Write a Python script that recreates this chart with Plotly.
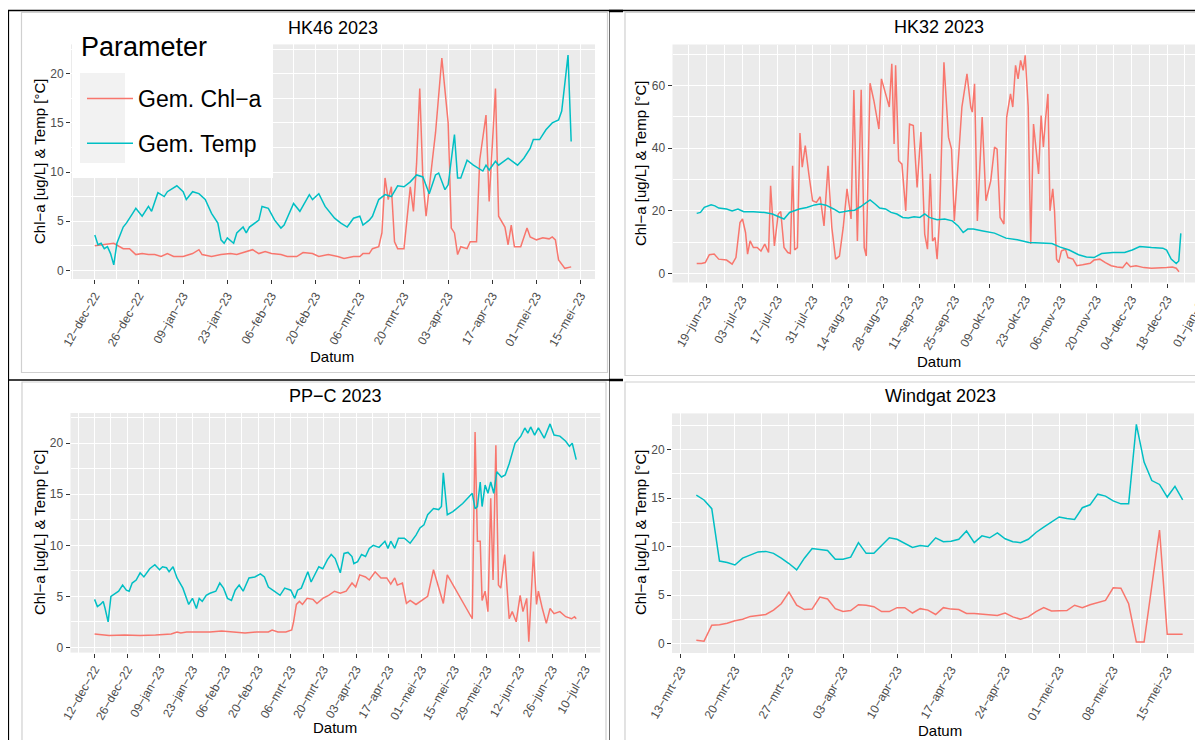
import numpy as np
import pandas as pd
import plotly.graph_objects as go

W, H = 1203, 740
OFF = 8  # the page body adds an 8 px margin; reference pixels are shifted back by it
FONT = "Liberation Sans, Arial, sans-serif"
RED = "#F8766D"
TEAL = "#00BFC4"

# ---------------- HK46 2023 (day offsets from 12-dec-2022) ----------------
hk46_start = "2022-12-12"
hk46_chl_day = [0, 2, 6, 9, 11, 13, 15, 17, 19, 21, 23, 25, 28, 31, 33, 34, 37, 40, 43, 45, 48, 50, 52, 54, 56, 59,
                61, 64, 66, 69, 71, 74, 77, 79, 82, 84, 85, 87, 88, 90, 91, 92, 93, 94, 95, 96, 97, 98, 100, 101, 102,
                103, 104, 105, 107, 108, 110, 112, 113, 114, 115, 116, 118, 119, 121, 122, 124, 125, 127, 128, 130,
                131, 132, 133, 135, 137, 138, 140, 142, 144, 145, 146, 147, 149, 151]
hk46_chl = [2.5, 2.6, 2.75, 2.2, 2.2, 1.6, 1.7, 1.6, 1.6, 1.4, 1.7, 1.4, 1.4, 1.7, 2.1, 1.6, 1.4, 1.6, 1.7, 1.6, 1.9,
            2.1, 1.7, 1.9, 1.7, 1.6, 1.4, 1.4, 1.8, 1.7, 1.4, 1.6, 1.4, 1.2, 1.4, 1.4, 1.7, 1.7, 2.2, 2.4, 3.8, 9.4,
            7.2, 8.5, 2.9, 2.2, 2.2, 2.2, 8.5, 6.0, 10.9, 18.5, 9.2, 5.5, 11.2, 14.0, 21.6, 15.0, 4.3, 3.8, 1.6, 2.4,
            2.2, 2.9, 2.9, 11.2, 15.8, 7.0, 18.5, 5.5, 4.4, 2.6, 4.6, 2.4, 2.4, 4.3, 3.4, 3.1, 3.3, 3.2, 3.4, 3.1,
            1.05, 0.2, 0.35]
hk46_temp_day = [0, 1, 2, 3, 4, 5, 6, 7, 9, 10, 12, 13, 15, 17, 18, 20, 22, 23, 26, 28, 29, 31, 33, 35, 37, 39, 40,
                 41, 42, 44, 45, 47, 48, 49, 52, 53, 55, 57, 59, 60, 63, 65, 68, 69, 71, 73, 76, 78, 80, 82, 84, 85,
                 87, 88, 90, 92, 94, 96, 98, 100, 102, 104, 106, 108, 109, 111, 112, 114, 115, 116, 118, 120, 123,
                 124, 125, 127, 128, 130, 131, 134, 136, 138, 139, 141, 143, 145, 147, 148, 150, 151]
hk46_temp = [3.6, 2.6, 2.75, 2.2, 2.4, 1.7, 0.55, 2.75, 4.4, 4.8, 5.8, 6.3, 5.5, 6.5, 6.0, 7.9, 7.5, 8.0, 8.6, 8.0,
             7.2, 8.0, 7.8, 7.2, 5.8, 4.8, 3.1, 2.75, 3.3, 2.75, 3.8, 4.4, 3.8, 4.4, 5.1, 6.5, 6.3, 5.1, 4.3, 4.6,
             6.8, 6.0, 7.7, 7.2, 7.8, 6.5, 5.3, 4.8, 4.4, 5.3, 5.5, 4.6, 5.1, 5.5, 7.2, 7.7, 7.5, 8.6, 8.5, 9.0, 9.7,
             9.5, 7.8, 9.7, 9.9, 8.2, 8.7, 13.8, 9.4, 9.4, 11.2, 10.7, 10.1, 10.7, 10.2, 11.1, 10.7, 11.2, 11.4,
             10.7, 11.4, 12.4, 13.3, 13.3, 14.3, 15.0, 15.3, 16.2, 21.9, 13.1]
hk46_tick_dates = ["2022-12-12", "2022-12-26", "2023-01-09", "2023-01-23", "2023-02-06", "2023-02-20",
                   "2023-03-06", "2023-03-20", "2023-04-03", "2023-04-17", "2023-05-01", "2023-05-15"]
hk46_tick_text = ["12−dec−22", "26−dec−22", "09−jan−23", "23−jan−23", "06−feb−23", "20−feb−23",
                  "06−mrt−23", "20−mrt−23", "03−apr−23", "17−apr−23", "01−mei−23", "15−mei−23"]

# ---------------- HK32 2023 (day offsets from 19-jun-2023) ----------------
hk32_start = "2023-06-19"
hk32_chl_day = [-3.9, -2.0, -0.5, 1.1, 3.0, 4.8, 7.9, 10.1, 11.6, 13.2, 14.2, 15.4, 16.2, 17.2, 18.5, 20.0, 21.5,
                23.0, 24.5, 25.3, 26.8, 28.3, 29.3, 30.6, 32.1, 33.1, 34.0, 34.8, 35.9, 36.9, 37.8, 39.0, 40.4,
                41.9, 43.4, 44.9, 46.4, 48.0, 49.5, 51.0, 52.5, 54.0, 55.5, 57.1, 58.2, 59.6, 61.1, 62.3, 63.1,
                64.6, 66.1, 68.1, 69.1, 70.7, 72.2, 73.2, 74.1, 74.7, 75.9, 77.2, 78.7, 80.2, 81.7, 83.2, 84.7,
                86.2, 87.3, 88.4, 89.3, 90.3, 91.1, 92.1, 93.8, 95.6, 96.8, 97.9, 99.4, 100.9, 102.9, 104.4, 105.0,
                105.9, 107.0, 108.9, 110.4, 112.3, 113.8, 114.8, 116.0, 117.5, 118.6, 120.1, 121.0, 122.1, 123.1,
                124.1, 125.1, 125.9, 127.1, 128.1, 129.2, 130.4, 131.2, 132.2, 133.1, 133.9, 134.9, 135.7, 136.8,
                137.5, 138.3, 139.2, 140.2, 141.8, 142.8, 144.8, 146.3, 148.6, 151.6, 153.1, 155.4, 157.6, 159.9,
                162.2, 164.4, 166.0, 167.5, 169.7, 172.8, 175.8, 178.8, 181.8, 184.1, 185.6, 186.7]
hk32_chl = [3.2, 3.2, 3.5, 6.0, 6.2, 4.6, 4.3, 3.0, 5.1, 16.3, 17.4, 13.1, 6.2, 10.4, 8.3, 8.3, 7.2, 9.4, 6.7, 28.0,
            8.8, 19.0, 19.8, 8.3, 6.7, 6.4, 34.4, 7.5, 8.3, 44.8, 33.9, 40.8, 31.8, 23.2, 22.7, 24.5, 15.2, 34.4,
            14.7, 4.6, 5.6, 14.7, 27.0, 17.4, 58.5, 10.4, 58.6, 8.3, 5.6, 60.7, 55.2, 46.1, 62.1, 57.3, 53.1, 66.9,
            41.3, 66.4, 36.0, 34.9, 20.0, 47.7, 47.2, 27.5, 45.1, 12.6, 7.8, 31.8, 10.4, 11.5, 4.6, 17.9, 67.4,
            43.5, 39.7, 16.8, 36.0, 53.1, 63.7, 53.1, 51.5, 60.5, 16.8, 49.9, 23.2, 29.6, 40.3, 39.7, 17.9, 15.8,
            49.9, 57.3, 53.1, 66.4, 62.1, 68.0, 64.8, 69.6, 53.1, 9.4, 47.7, 37.1, 31.8, 50.4, 40.3, 48.8, 57.3,
            20.0, 27.0, 20.0, 4.6, 3.5, 7.2, 7.8, 5.1, 4.6, 2.5, 2.8, 3.3, 4.3, 4.6, 3.5, 2.5, 2.1, 1.9, 3.5, 2.2,
            2.5, 1.9, 1.7, 1.7, 1.9, 2.1, 1.7, 0.6]
hk32_temp_day = [-3.9, -2.4, -0.9, 1.8, 3.3, 4.8, 7.9, 10.1, 12.4, 14.7, 18.5, 23.0, 26.0, 29.0, 30.6, 32.8, 36.6,
                 39.6, 42.7, 44.9, 47.2, 50.2, 52.5, 56.3, 58.5, 60.8, 63.1, 64.6, 66.6, 68.4, 70.7, 72.9, 75.2,
                 77.5, 79.7, 82.0, 84.3, 86.2, 88.0, 91.1, 94.1, 97.1, 99.4, 101.4, 103.2, 105.4, 109.2, 113.8,
                 118.3, 122.8, 127.4, 131.9, 136.5, 139.5, 143.3, 147.0, 150.1, 153.1, 156.1, 160.6, 165.2, 168.2,
                 171.2, 175.8, 180.3, 181.8, 183.6, 185.6, 186.6, 187.4]
hk32_temp = [19.2, 19.5, 21.1, 21.9, 21.6, 20.9, 20.6, 20.0, 20.6, 19.7, 19.7, 19.5, 19.0, 17.9, 17.4, 19.5, 20.6,
             21.1, 21.9, 22.2, 21.8, 20.6, 19.5, 20.0, 20.2, 21.3, 22.7, 23.5, 22.2, 20.9, 20.6, 19.5, 19.0, 17.9,
             17.7, 18.1, 17.9, 19.0, 17.9, 17.2, 17.4, 16.8, 15.2, 13.1, 14.2, 14.2, 13.6, 12.9, 11.3, 10.8, 9.9,
             9.7, 9.6, 8.5, 7.5, 6.0, 5.3, 5.1, 6.4, 6.7, 6.7, 7.5, 8.6, 8.3, 8.1, 7.5, 4.6, 3.2, 4.0, 12.8]
hk32_tick_dates = ["2023-06-19", "2023-07-03", "2023-07-17", "2023-07-31", "2023-08-14", "2023-08-28",
                   "2023-09-11", "2023-09-25", "2023-10-09", "2023-10-23", "2023-11-06", "2023-11-20",
                   "2023-12-04", "2023-12-18", "2024-01-01"]
hk32_tick_text = ["19−jun−23", "03−jul−23", "17−jul−23", "31−jul−23", "14−aug−23", "28−aug−23", "11−sep−23",
                  "25−sep−23", "09−okt−23", "23−okt−23", "06−nov−23", "20−nov−23", "04−dec−23", "18−dec−23",
                  "01−jan−24"]

# ---------------- PP-C 2023 (day offsets from 12-dec-2022) ----------------
ppc_start = "2022-12-12"
ppc_chl_day = [0, 6.2, 12.8, 19.5, 26.1, 32.8, 35.3, 36.9, 39.4, 42.8, 49.4, 54.4, 59.4, 64.4, 69.4, 74.4, 76.0,
               78.5, 81.9, 84.4, 85.2, 86.4, 87.7, 89.0, 91.0, 93.5, 95.2, 97.7, 100.2, 102.7, 105.2, 107.7, 110.2,
               111.8, 113.5, 116.0, 117.6, 120.1, 122.6, 125.1, 126.8, 128.5, 129.6, 131.8, 133.5, 135.1, 137.6,
               140.1, 142.6, 145.1, 149.3, 151.0, 161.7, 162.9, 163.9, 165.1, 165.9, 167.2, 168.4, 169.6, 170.6,
               171.8, 172.9, 173.9, 175.6, 177.5, 178.8, 180.5, 182.2, 183.4, 185.0, 185.9, 187.9, 189.2, 190.0,
               191.7, 193.4, 195.0, 196.7, 199.2, 201.7, 204.2, 205.5, 206.2]
ppc_chl = [1.3, 1.15, 1.2, 1.15, 1.2, 1.3, 1.5, 1.4, 1.5, 1.5, 1.5, 1.6, 1.5, 1.4, 1.5, 1.5, 1.7, 1.5, 1.5, 1.7,
           2.5, 4.2, 4.5, 4.2, 4.8, 4.7, 4.3, 4.8, 5.1, 5.5, 5.3, 5.5, 6.3, 5.9, 7.1, 6.9, 6.6, 7.4, 6.8, 6.8, 6.2,
           6.8, 6.1, 6.3, 4.3, 4.6, 4.2, 4.6, 5.0, 7.6, 4.3, 7.1, 2.8, 21.1, 10.4, 10.4, 4.6, 5.5, 3.5, 14.6, 6.6,
           19.8, 6.1, 5.8, 9.1, 2.8, 3.5, 2.5, 5.1, 3.5, 4.8, 0.55, 9.4, 4.2, 5.5, 3.8, 2.35, 3.8, 3.3, 3.5, 3.0,
           2.8, 3.0, 2.8]
ppc_temp_day = [0, 1.2, 2.5, 3.7, 4.5, 5.8, 7.0, 8.7, 10.3, 12.0, 13.6, 14.8, 16.1, 17.8, 19.5, 21.1, 23.6, 25.8,
                27.8, 29.1, 30.8, 31.9, 33.6, 35.3, 37.8, 40.3, 41.9, 43.6, 44.8, 46.1, 47.8, 49.4, 51.9, 53.6, 55.2,
                56.9, 58.6, 60.2, 61.9, 63.6, 66.1, 68.6, 71.0, 72.7, 74.4, 76.9, 79.4, 81.4, 84.0, 85.7, 86.9, 88.5,
                90.2, 91.3, 92.7, 94.3, 96.0, 97.7, 99.7, 101.3, 103.0, 105.2, 106.8, 108.5, 110.2, 111.0, 112.6,
                114.3, 116.0, 117.6, 119.3, 121.8, 124.3, 125.6, 126.8, 128.5, 130.1, 132.6, 135.1, 137.6, 139.3,
                141.0, 142.6, 145.1, 147.3, 148.5, 149.3, 151.0, 153.4, 157.6, 161.7, 162.9, 163.9, 165.1, 165.9,
                167.2, 168.4, 169.6, 170.9, 172.2, 174.2, 175.8, 177.5, 180.0, 182.5, 184.2, 185.5, 186.7, 188.4,
                190.0, 192.5, 195.0, 196.7, 199.2, 201.7, 203.3, 204.5, 206.2]
ppc_temp = [4.7, 4.0, 4.2, 4.5, 3.8, 2.5, 5.0, 5.3, 5.5, 6.1, 5.6, 5.5, 6.3, 6.6, 7.3, 6.9, 7.7, 8.1, 7.6, 7.9, 7.8,
            7.4, 7.9, 6.8, 5.8, 4.2, 4.8, 3.8, 4.8, 4.5, 5.1, 5.3, 5.5, 6.3, 5.8, 4.8, 4.6, 5.6, 6.1, 5.5, 6.8, 6.9,
            7.2, 6.9, 5.9, 5.5, 5.1, 5.8, 5.6, 4.8, 5.6, 5.8, 6.8, 7.4, 6.4, 7.1, 7.9, 7.7, 8.6, 9.1, 8.7, 7.3, 9.2,
            9.3, 8.9, 8.2, 8.4, 9.1, 8.9, 9.7, 10.0, 9.8, 10.4, 9.7, 10.4, 9.7, 10.7, 10.7, 10.2, 11.0, 11.7, 12.0,
            13.0, 13.6, 13.5, 13.8, 17.1, 13.0, 13.3, 14.1, 15.1, 13.6, 13.8, 16.2, 13.8, 15.9, 15.1, 16.2, 15.1,
            17.2, 16.7, 16.9, 18.0, 20.0, 20.7, 21.5, 21.0, 21.6, 20.8, 21.5, 20.5, 21.9, 20.8, 20.7, 20.2, 19.7,
            20.0, 18.4]
ppc_tick_dates = hk46_tick_dates + ["2023-05-29", "2023-06-12", "2023-06-26", "2023-07-10"]
ppc_tick_text = hk46_tick_text + ["29−mei−23", "12−jun−23", "26−jun−23", "10−jul−23"]

# ---------------- Windgat 2023 (day offsets from 13-mrt-2023) ----------------
wg_start = "2023-03-13"
wg_chl_day = list(range(2, 61)) + [62, 63, 64, 65]
wg_chl = [0.35, 0.25, 1.9, 1.95, 2.1, 2.35, 2.5, 2.8, 2.9, 3.0, 3.45, 4.1, 5.3, 3.95, 3.5, 3.55, 4.8, 4.6, 3.6,
          3.3, 3.4, 4.0, 3.95, 3.8, 3.3, 3.3, 3.7, 3.7, 3.15, 3.6, 3.45, 3.0, 3.7, 3.55, 3.5, 3.1, 3.1, 3.05, 3.0,
          2.9, 3.15, 2.75, 2.5, 2.75, 3.3, 3.7, 3.35, 3.35, 3.4, 3.95, 3.7, 4.0, 4.2, 4.45, 5.75, 5.7, 4.1, 0.15,
          0.15, 11.7, 0.95, 0.95, 0.95]
wg_temp_day = list(range(2, 66))
wg_temp = [15.3, 14.8, 13.9, 8.5, 8.35, 8.1, 8.8, 9.1, 9.45, 9.5, 9.3, 8.8, 8.25, 7.6, 8.8, 9.8, 9.7, 9.6, 8.7,
           8.7, 8.9, 10.4, 9.3, 9.3, 10.1, 10.9, 10.75, 10.3, 9.9, 10.1, 10.0, 10.9, 10.5, 10.55, 10.75, 11.6,
           10.4, 11.1, 10.9, 11.4, 10.8, 10.5, 10.4, 10.75, 11.45, 12.0, 12.5, 13.05, 12.9, 12.8, 14.0, 14.3, 15.4,
           15.2, 14.7, 14.4, 14.4, 22.6, 18.7, 16.8, 16.4, 15.1, 16.2, 14.8]
wg_tick_dates = ["2023-03-13", "2023-03-20", "2023-03-27", "2023-04-03", "2023-04-10", "2023-04-17",
                 "2023-04-24", "2023-05-01", "2023-05-08", "2023-05-15"]
wg_tick_text = ["13−mrt−23", "20−mrt−23", "27−mrt−23", "03−apr−23", "10−apr−23", "17−apr−23", "24−apr−23",
                "01−mei−23", "08−mei−23", "15−mei−23"]

titles = ["HK46 2023", "HK32 2023", "PP−C 2023", "Windgat 2023"]
series_names = ["Gem. Chl−a", "Gem. Temp"]
legend_title = "Parameter"
x_title = "Datum"
y_title = "Chl−a [ug/L] & Temp [°C]"


# ---------------- helpers ----------------
def px(x):
    return (x - OFF) / W


def py(y):
    return 1 - (y - OFF) / H


def to_dates(start, days):
    return pd.Timestamp(start) + pd.to_timedelta(np.asarray(days, dtype=float), unit="D")


def expand(lo, hi, f=0.05):
    s = hi - lo
    return lo - f * s, hi + f * s


panels = [
    dict(start=hk46_start, chl=(hk46_chl_day, hk46_chl), temp=(hk46_temp_day, hk46_temp),
         ticks=(hk46_tick_dates, hk46_tick_text), xdom=(71, 595), ydom=(44.4, 279.0), ydt=5, xstep=14),
    dict(start=hk32_start, chl=(hk32_chl_day, hk32_chl), temp=(hk32_temp_day, hk32_temp),
         ticks=(hk32_tick_dates, hk32_tick_text), xdom=(672.5, 1205.0), ydom=(44.5, 282.5), ydt=20, xstep=14),
    dict(start=ppc_start, chl=(ppc_chl_day, ppc_chl), temp=(ppc_temp_day, ppc_temp),
         ticks=(ppc_tick_dates, ppc_tick_text), xdom=(70.5, 600.3), ydom=(413.0, 652.6), ydt=5, xstep=14),
    dict(start=wg_start, chl=(wg_chl_day, wg_chl), temp=(wg_temp_day, wg_temp),
         ticks=(wg_tick_dates, wg_tick_text), xdom=(672.0, 1207.0), ydom=(413.4, 653.0), ydt=5, xstep=7),
]

fig = go.Figure()
layout_axes = {}
annotations = []

for i, p in enumerate(panels):
    n = "" if i == 0 else str(i + 1)
    xa, ya = "x" + n, "y" + n
    for k, (col, key) in enumerate([(RED, "chl"), (TEAL, "temp")]):
        d, v = p[key]
        fig.add_trace(go.Scatter(
            x=to_dates(p["start"], d), y=v, mode="lines", xaxis=xa, yaxis=ya,
            line=dict(color=col, width=1.5), name=series_names[k],
            showlegend=(i == 0), legendgroup=series_names[k]))

    all_d = list(p["chl"][0]) + list(p["temp"][0])
    all_v = list(p["chl"][1]) + list(p["temp"][1])
    xl, xr = expand(min(all_d), max(all_d))
    yl, yr = expand(min(all_v), max(all_v))
    t0 = pd.Timestamp(p["start"])
    xrange = [t0 + pd.Timedelta(days=xl), t0 + pd.Timedelta(days=xr)]
    tick_dates, tick_text = p["ticks"]
    minor_t0 = pd.Timestamp(tick_dates[0]) - pd.Timedelta(days=p["xstep"] / 2)

    layout_axes["xaxis" + n] = dict(
        domain=[px(p["xdom"][0]), px(p["xdom"][1])], anchor=ya, type="date", range=xrange,
        automargin=False, ticklabeloverflow="allow",
        tickmode="array", tickvals=tick_dates, ticktext=tick_text, tickangle=-60,
        ticks="outside", ticklen=4, tickwidth=1, tickcolor="#333333",
        tickfont=dict(family=FONT, size=12, color="#4D4D4D"),
        showgrid=True, gridcolor="white", gridwidth=1.3, zeroline=False, showline=False,
        minor=dict(tickmode="linear", tick0=minor_t0.strftime("%Y-%m-%d %H:%M"),
                   dtick=p["xstep"] * 86400000, showgrid=True, gridcolor="white", gridwidth=0.6),
    )
    layout_axes["yaxis" + n] = dict(
        domain=[py(p["ydom"][1]), py(p["ydom"][0])], anchor=xa, range=[yl, yr],
        automargin=False,
        tickmode="linear", tick0=0, dtick=p["ydt"],
        ticks="outside", ticklen=4, tickwidth=1, tickcolor="#333333",
        tickfont=dict(family=FONT, size=12, color="#4D4D4D"),
        showgrid=True, gridcolor="white", gridwidth=1.3, zeroline=False, showline=False,
        minor=dict(tickmode="linear", tick0=p["ydt"] / 2, dtick=p["ydt"], showgrid=True,
                   gridcolor="white", gridwidth=0.6),
    )

# text positions (reference pixels)
title_pos = [(333, 27.5), (939, 27), (335, 396), (940, 396)]
xt_pos = [(332, 356), (939, 361), (335, 727), (940, 730)]
yt_pos = [(39, 162), (640, 164), (39, 533), (640, 533)]
for i in range(4):
    annotations.append(dict(text=titles[i], x=px(title_pos[i][0]), y=py(title_pos[i][1]), xref="paper",
                            yref="paper", showarrow=False, xanchor="center", yanchor="middle",
                            font=dict(family=FONT, size=18, color="black")))
    annotations.append(dict(text=x_title, x=px(xt_pos[i][0]), y=py(xt_pos[i][1]), xref="paper", yref="paper",
                            showarrow=False, xanchor="center", yanchor="middle",
                            font=dict(family=FONT, size=15, color="black")))
    annotations.append(dict(text=y_title, x=px(yt_pos[i][0]), y=py(yt_pos[i][1]), xref="paper", yref="paper",
                            showarrow=False, xanchor="center", yanchor="middle", textangle=-90,
                            font=dict(family=FONT, size=15, color="black")))
# legend title
annotations.append(dict(text=legend_title, x=px(79), y=py(47), xref="paper", yref="paper", showarrow=False,
                        xanchor="left", yanchor="middle", font=dict(family=FONT, size=27, color="black")))


def rect(x0, y0, x1, y1, line="#D0D0D0", fill=None, width=1.2, layer="below"):
    return dict(type="rect", xref="paper", yref="paper", x0=px(x0), x1=px(x1), y0=py(y1), y1=py(y0),
                line=dict(color=line, width=width) if line else dict(width=0),
                fillcolor=fill if fill else "rgba(0,0,0,0)", layer=layer)


def seg(x0, y0, x1, y1, color="black", width=1.5, layer="above"):
    return dict(type="line", xref="paper", yref="paper", x0=px(x0), x1=px(x1), y0=py(y0), y1=py(y1),
                line=dict(color=color, width=width), layer=layer)


shapes = [
    # picture frames
    rect(21.5, 12.5, 607.5, 372.5),
    rect(625, 12.5, 1215, 375.5),
    rect(22, 382, 606, 760),
    rect(625, 382, 1215, 760),
    # table lines
    seg(7, 10.5, 1215, 10.5, width=1.5),
    seg(8, 10, 8, 760, width=2.2),
    seg(609.5, 10, 609.5, 760, color="#6E6E6E", width=1),
    seg(8, 380, 623, 380, width=1.5),
    seg(609, 11, 623, 11, width=2.5),
    seg(609, 380, 623, 380, width=2.5),
    # legend box + key background
    rect(73, 30, 273, 178, line=None, fill="white", layer="above"),
    rect(80, 73, 125, 163, line=None, fill="#F2F2F2", layer="above"),
]

fig.update_layout(
    width=W, height=H, margin=dict(l=0, r=0, t=0, b=0, autoexpand=False),
    paper_bgcolor="white", plot_bgcolor="#EBEBEB",
    font=dict(family=FONT, color="black"),
    annotations=annotations, shapes=shapes,
    legend=dict(x=px(82), y=py(77), xanchor="left", yanchor="top", bgcolor="rgba(0,0,0,0)",
                font=dict(family=FONT, size=23, color="black"), tracegroupgap=12, itemwidth=46),
    **layout_axes,
)

fig.write_html("out.html")
